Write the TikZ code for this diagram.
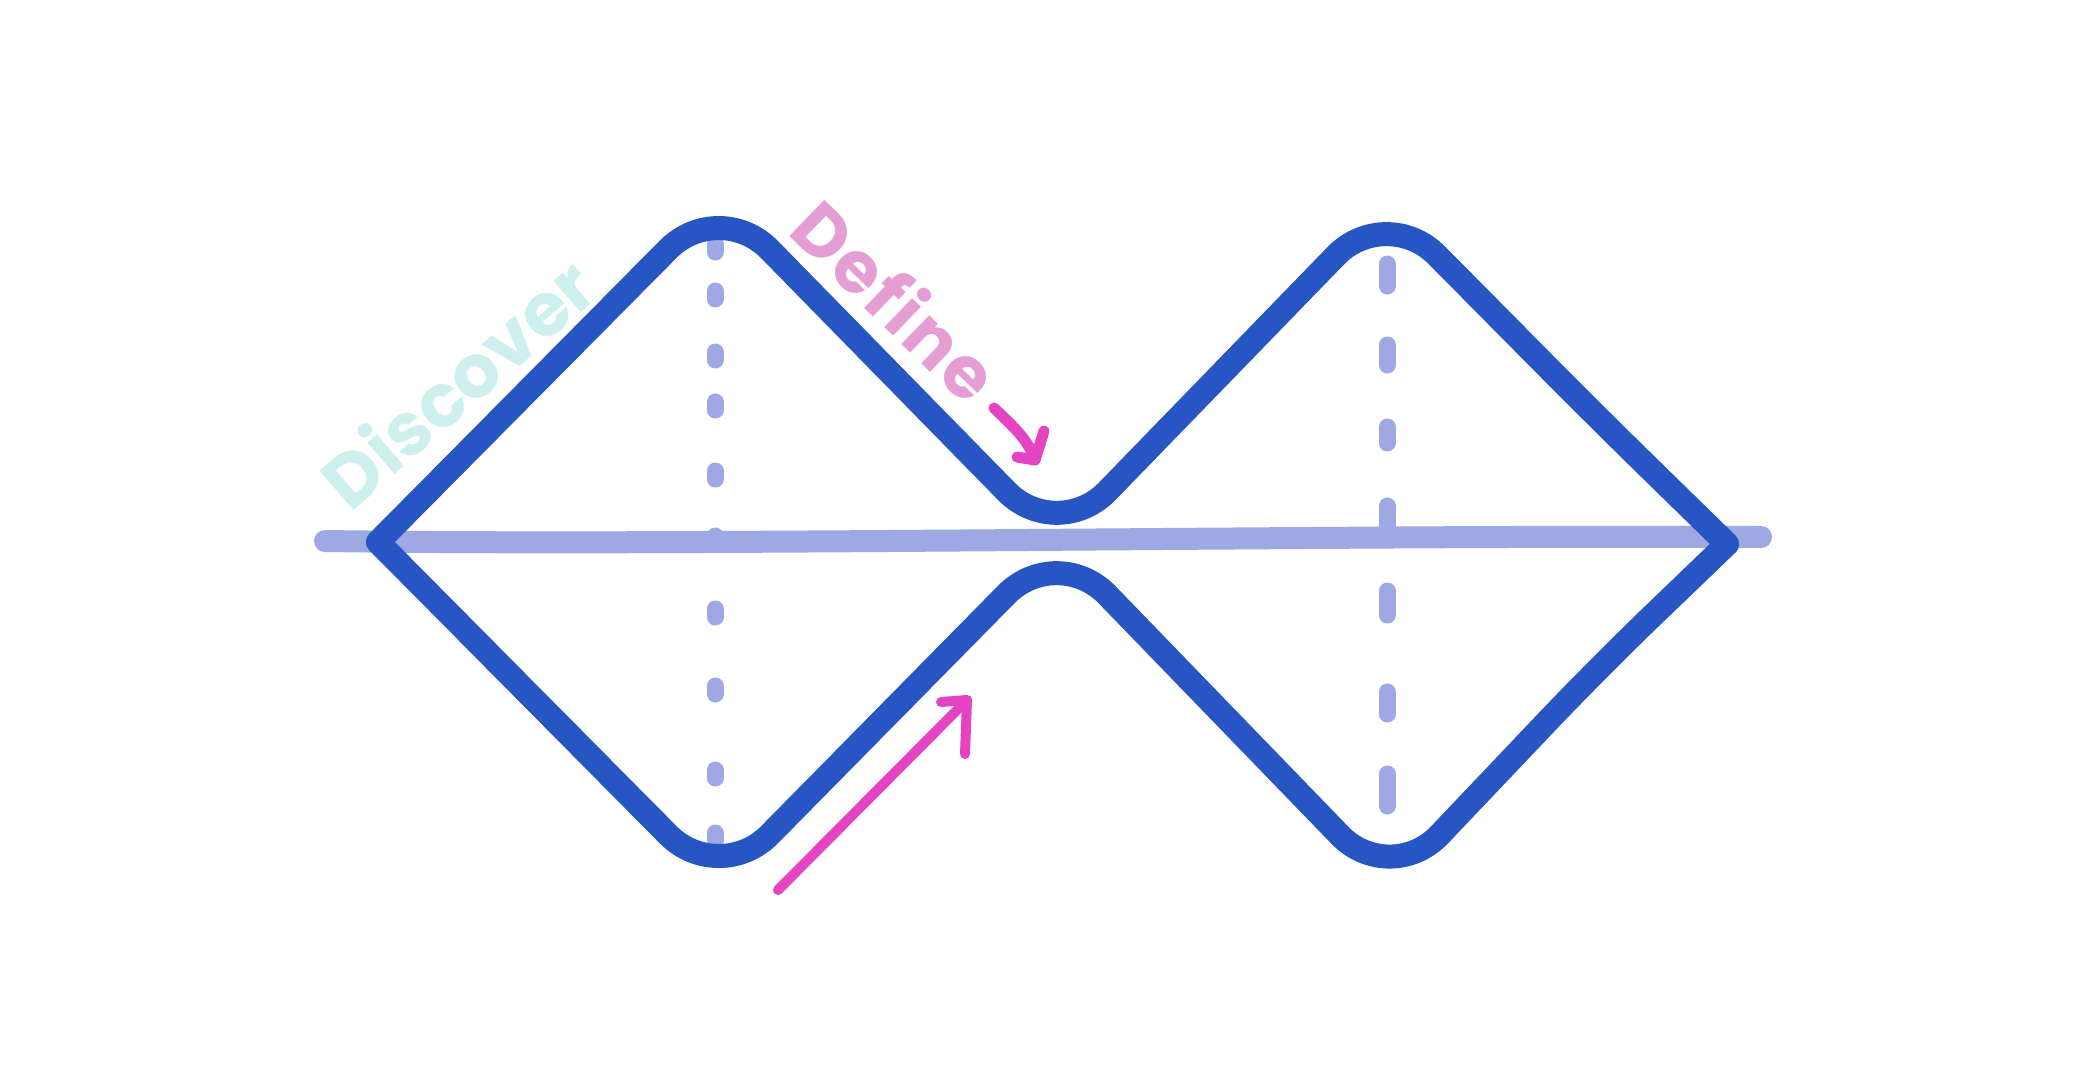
\documentclass[tikz,border=0pt]{standalone}
\usepackage{fontspec}
\setmainfont{Poppins}
\definecolor{shapeblue}{HTML}{2855C4}
\definecolor{axisblue}{HTML}{9EA8E3}
\definecolor{disccyan}{HTML}{CDF0EE}
\definecolor{defpink}{HTML}{E59ED4}
\definecolor{arrowpink}{HTML}{E444C3}
\begin{document}
\begin{tikzpicture}[x=1pt,y=-1pt,
  outline/.style={draw=shapeblue,line width=24pt,line cap=round,line join=round,rounded corners=72pt},
  axisline/.style={draw=axisblue,line width=22pt,line cap=round},
  dashline/.style={draw=axisblue,line width=17pt,line cap=round},
  arrowline/.style={draw=arrowpink,line width=10pt,line cap=round,line join=round},
  label/.style={font=\bfseries\fontsize{74}{80}\selectfont,inner sep=0pt}]
\useasboundingbox (0,0) rectangle (2100,1090);
\fill[white] (0,0) rectangle (2100,1090);
% horizontal axis
\coordinate (axL) at (325,541);
\coordinate (axR) at (1761,537);
\draw[axisline] (axL) .. controls (700,546) and (1300,535) .. (axR);
% dashed vertical line (left)
\foreach \yy in {248,295,356,406,475,540,613,690,774,837}
  \draw[dashline] (715,\yy-4) -- (715,\yy+4);
% dashed vertical line (right)
\foreach \ya/\yb in {264/286,345/365,427/443,506/540,591/615,692/714,774/806}
  \draw[dashline] (1387,\ya) -- (1387,\yb);
% outline shape
\coordinate (tipL) at (378,542);
\coordinate (tipR) at (1727,544);
\draw[outline] (tipL) -- (719,198) -- (1057,543) -- (1386,204) -- (1598,418) -- (tipR);
\draw[outline] (tipL) -- (719,886) -- (1057,543) -- (1390,887) -- (1598,668) -- (tipR);
% labels
\node[label,text=disccyan,rotate=41] (disc) at (457,382) {Discover};
\node[label,text=defpink,rotate=-44,font=\bfseries\fontsize{72}{80}\selectfont\addfontfeature{LetterSpace=4}] (def) at (897,300) {Define};
% small arrow
\coordinate (sa0) at (994,408);
\coordinate (sat) at (1035,460);
\coordinate (sab1) at (1044,431);
\coordinate (sab2) at (1017,457);
\draw[arrowline,line width=11pt] (sa0) .. controls (1015,428) and (1028,440) .. (sat);
\draw[arrowline,line width=11pt] (sab1) -- (sat) -- (sab2);
% big arrow
\coordinate (ba0) at (778,890);
\coordinate (bat) at (967,700);
\coordinate (bab1) at (941,702);
\coordinate (bab2) at (965,754);
\draw[arrowline] (ba0) -- (bat);
\draw[arrowline] (bab1) -- (bat) -- (bab2);
\end{tikzpicture}
\end{document}
